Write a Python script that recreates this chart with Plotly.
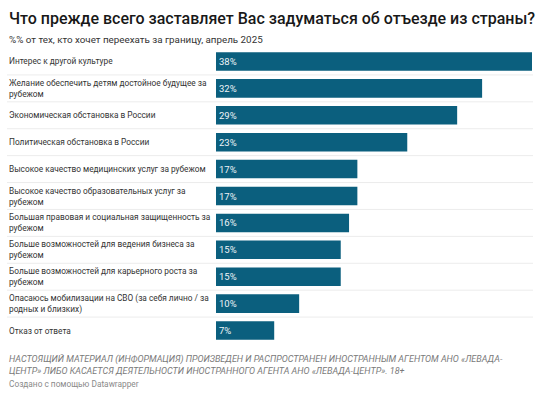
import plotly.graph_objects as go

categories = [
    "Интерес к другой культуре",
    "Желание обеспечить детям достойное будущее за<br>рубежом",
    "Экономическая обстановка в России",
    "Политическая обстановка в России",
    "Высокое качество медицинских услуг за рубежом",
    "Высокое качество образовательных услуг за<br>рубежом",
    "Большая правовая и социальная защищенность за<br>рубежом",
    "Больше возможностей для ведения бизнеса за<br>рубежом",
    "Больше возможностей для карьерного роста за<br>рубежом",
    "Опасаюсь мобилизации на СВО (за себя лично / за<br>родных и близких)",
    "Отказ от ответа",
]
values = [38, 32, 29, 23, 17, 17, 16, 15, 15, 10, 7]

title = "Что прежде всего заставляет Вас задуматься об отъезде из страны?"
subtitle = "%% от тех, кто хочет переехать за границу, апрель 2025"
note = ("НАСТОЯЩИЙ МАТЕРИАЛ (ИНФОРМАЦИЯ) ПРОИЗВЕДЕН И РАСПРОСТРАНЕН ИНОСТРАННЫМ АГЕНТОМ АНО «ЛЕВАДА-<br>"
        "ЦЕНТР» ЛИБО КАСАЕТСЯ ДЕЯТЕЛЬНОСТИ ИНОСТРАННОГО АГЕНТА АНО «ЛЕВАДА-ЦЕНТР». 18+")
credit = "Создано с помощью Datawrapper"

W, H = 540, 396
L, R, T, B = 216, 8, 47.5, 51.5
pw = W - L - R
ph = H - T - B

def px_x(p):
    return (p - L) / pw

def px_y(p):
    return 1 - (p - T) / ph

FONT = "Roboto, Liberation Sans, Arial, sans-serif"
idx = list(range(len(categories)))

fig = go.Figure(go.Bar(
    x=values, y=idx, orientation="h",
    marker=dict(color="#0b5f7e", line=dict(width=0)),
    text=[f"{v}%" for v in values],
    textposition="inside", insidetextanchor="start",
    textfont=dict(color="#eef4f7", size=9.5, family=FONT),
    width=0.69, hoverinfo="skip",
))

annotations = []
for i, c in enumerate(categories):
    annotations.append(dict(
        x=px_x(7), y=i, xref="paper", yref="y", text=c, showarrow=False,
        xanchor="left", yanchor="middle", align="left",
        font=dict(size=8.3, color="#333333", family=FONT),
    ))

annotations += [
    dict(x=px_x(7), y=px_y(18), xref="paper", yref="paper", text=title, showarrow=False,
         xanchor="left", yanchor="middle",
         font=dict(size=16, color="#181818", family=FONT, weight=500)),
    dict(x=px_x(7), y=px_y(39), xref="paper", yref="paper", text=subtitle, showarrow=False,
         xanchor="left", yanchor="middle", font=dict(size=9.8, color="#333333", family=FONT)),
    dict(x=px_x(7), y=px_y(366), xref="paper", yref="paper", text="<i>" + note + "</i>", showarrow=False,
         xanchor="left", yanchor="middle", align="left",
         font=dict(size=9.0, color="#7a7a7a", family=FONT)),
    dict(x=px_x(7), y=px_y(385), xref="paper", yref="paper", text=credit, showarrow=False,
         xanchor="left", yanchor="middle", font=dict(size=8.3, color="#8a8a8a", family=FONT)),
]

shapes = []
for i in idx[:-1]:
    shapes.append(dict(type="line", xref="paper", yref="y", x0=px_x(7), x1=px_x(533),
                       y0=i + 0.5, y1=i + 0.5, line=dict(color="#ececec", width=1), layer="below"))

fig.update_layout(
    width=W, height=H,
    margin=dict(l=L, r=R, t=T, b=B, pad=0),
    paper_bgcolor="white", plot_bgcolor="white",
    showlegend=False,
    xaxis=dict(range=[0, 38.0], visible=False, fixedrange=True),
    yaxis=dict(range=[len(categories) - 0.5, -0.5], visible=False, fixedrange=True),
    annotations=annotations, shapes=shapes,
    font=dict(family=FONT),
    uniformtext=dict(minsize=9, mode="show"),
)

fig.write_html("out.html", config={"displayModeBar": False},
               post_script="document.body.style.margin='0';document.body.style.overflow='hidden';")
